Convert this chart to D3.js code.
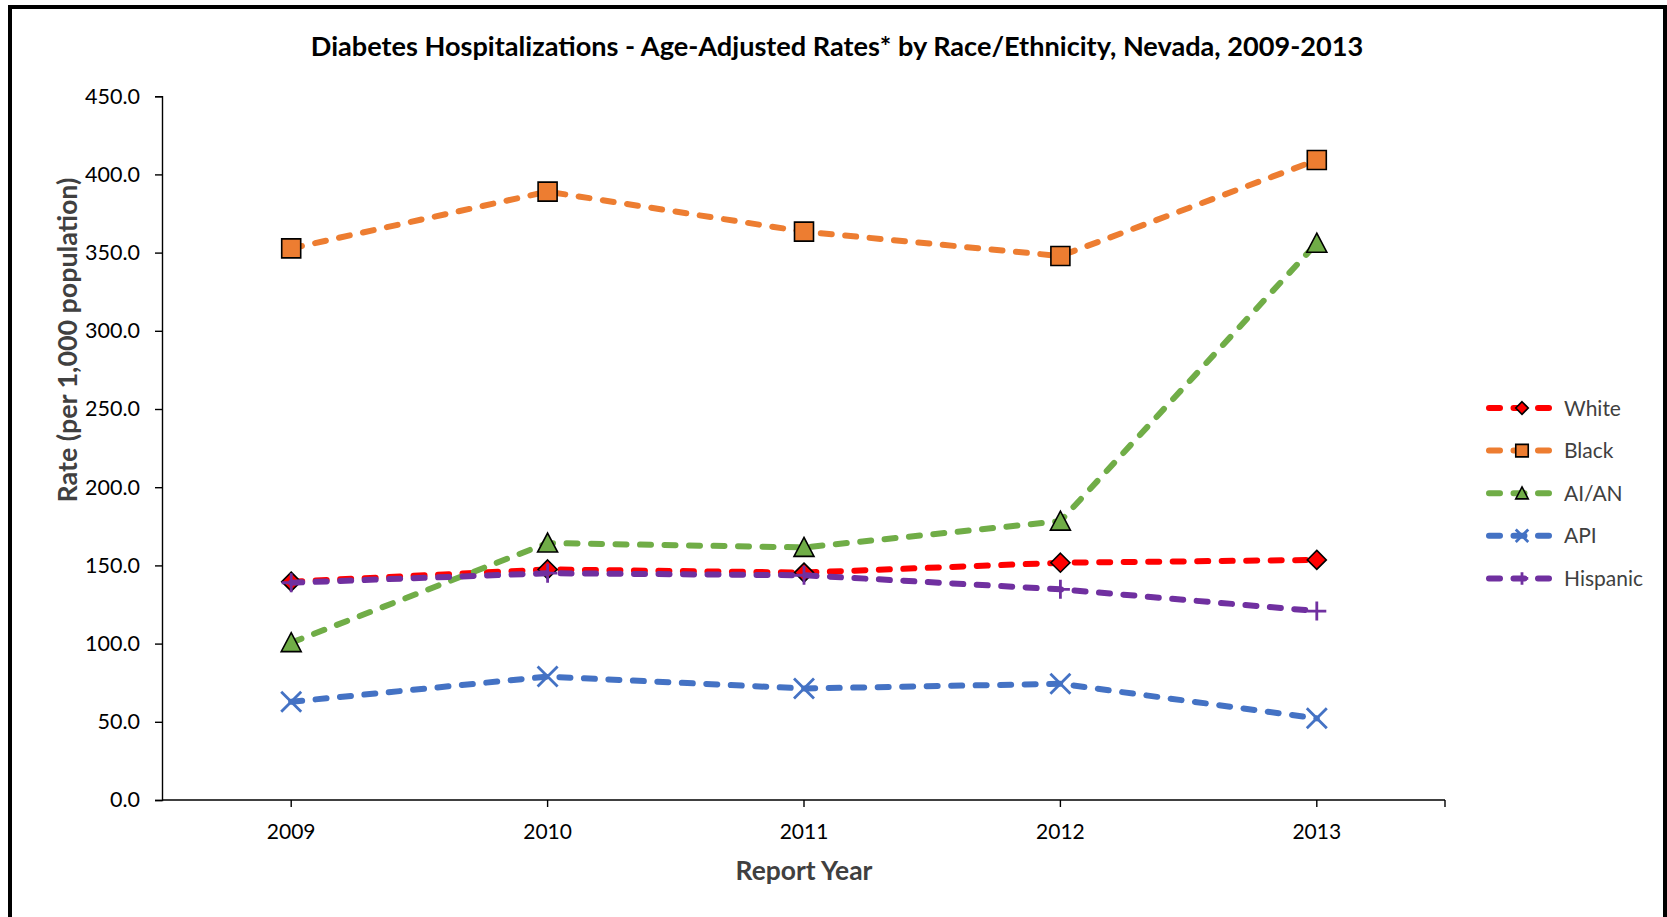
<!DOCTYPE html>
<html>
<head>
<meta charset="utf-8">
<script src="https://cdn.jsdelivr.net/npm/d3@7"></script>
<style>
  html, body { margin: 0; padding: 0; background: #fff; }
  svg { display: block; }
  text { font-family: Lato, "Open Sans", "Liberation Sans", sans-serif; }
</style>
</head>
<body>
<svg id="chart" width="1667" height="917"></svg>
<script>
// ---- data ----
const years = ["2009", "2010", "2011", "2012", "2013"];
const seriesNames = ["White", "Black", "AI/AN", "API", "Hispanic"];
const white    = [139.6, 147.4, 145.4, 151.7, 153.5];
const black    = [352.7, 389.0, 363.4, 347.8, 409.2];
const aian     = [100.6, 164.3, 161.5, 178.3, 356.0];
const api      = [62.8, 78.9, 71.3, 74.3, 52.2];
const hispanic = [138.9, 145.0, 143.7, 134.7, 120.8];
const yTicks   = [0, 50, 100, 150, 200, 250, 300, 350, 400, 450];
const titleText = "Diabetes Hospitalizations - Age-Adjusted Rates* by Race/Ethnicity, Nevada, 2009-2013";
const xTitle = "Report Year";
const yTitle = "Rate (per 1,000 population)";

const seriesValues = [white, black, aian, api, hispanic];
const colors  = ["#FF0000", "#ED7D31", "#70AD47", "#4472C4", "#7030A0"];
const markers = ["diamond", "square", "triangle", "x", "plus"];

// ---- layout ----
const svg = d3.select("#chart");
const plot = { left: 163, right: 1445, top: 96.2, bottom: 800 };

svg.append("rect").attr("x", 10).attr("y", 7).attr("width", 1655).attr("height", 930)
  .attr("fill", "#fff").attr("stroke", "#000").attr("stroke-width", 4);

const x = d3.scaleBand().domain(years).range([plot.left, plot.right]);
const xc = d => x(d) + x.bandwidth() / 2;
const y = d3.scaleLinear().domain([0, 450]).range([plot.bottom, plot.top]);

function fitWidth(sel, target) {
  const w = sel.node().getComputedTextLength();
  const fs = parseFloat(sel.attr("font-size"));
  sel.attr("font-size", fs * target / w);
}

// title
const t = svg.append("text").attr("x", 837).attr("y", 56).attr("text-anchor", "middle")
  .attr("font-weight", "bold").attr("font-size", 24).attr("fill", "#000").text(titleText);
fitWidth(t, 1053);

// y axis
const yAxis = svg.append("g").attr("transform", `translate(${plot.left - 1},0)`)
  .call(d3.axisLeft(y).tickValues(yTicks).tickFormat(d3.format(".1f")).tickSize(7).tickPadding(15));
yAxis.select(".domain").attr("stroke", "#000").attr("stroke-width", 1.4);
yAxis.selectAll(".tick line").attr("stroke", "#000").attr("stroke-width", 1.4);
yAxis.selectAll(".tick text").attr("font-size", 21.5).attr("fill", "#000")
  .style("font-family", "Lato, 'Open Sans', sans-serif");

// x axis
const xAxisG = svg.append("g").attr("transform", `translate(0,${plot.bottom})`);
xAxisG.append("line").attr("x1", plot.left - 1).attr("x2", plot.right).attr("y1", 0).attr("y2", 0)
  .attr("stroke", "#000").attr("stroke-width", 1.4);
xAxisG.selectAll("line.tk").data(years.map(xc).concat([plot.right])).join("line").attr("class", "tk")
  .attr("x1", d => d).attr("x2", d => d).attr("y1", 0).attr("y2", 7)
  .attr("stroke", "#000").attr("stroke-width", 1.4);
xAxisG.selectAll("text.lbl").data(years).join("text").attr("class", "lbl")
  .attr("x", d => xc(d)).attr("y", 39).attr("text-anchor", "middle")
  .attr("font-size", 21).attr("fill", "#000").text(d => d);

// axis titles
const xt = svg.append("text").attr("x", 804).attr("y", 880).attr("text-anchor", "middle")
  .attr("font-weight", "bold").attr("font-size", 24).attr("fill", "#404040").text(xTitle);
fitWidth(xt, 137);
const yt = svg.append("text").attr("transform", "translate(77,340) rotate(-90)")
  .attr("text-anchor", "middle").attr("font-weight", "bold").attr("font-size", 24)
  .attr("fill", "#404040").text(yTitle);
fitWidth(yt, 325);

// marker shapes
function markerPath(type, s) {
  const h = s / 2;
  switch (type) {
    case "diamond": return `M0,${-h}L${h},0L0,${h}L${-h},0Z`;
    case "square": return `M${-h},${-h}H${h}V${h}H${-h}Z`;
    case "triangle": return `M0,${-h}L${h},${h * 0.9}L${-h},${h * 0.9}Z`;
    case "x": return `M${-h},${-h}L${h},${h}M${h},${-h}L${-h},${h}`;
    case "plus": return `M0,${-h}V${h}M${-h},0H${h}`;
  }
}
function drawMarker(g, type, color, s) {
  const p = g.append("path").attr("d", markerPath(type, s));
  if (type === "x" || type === "plus") {
    p.attr("fill", "none").attr("stroke", color).attr("stroke-width", 2.8);
  } else {
    p.attr("fill", color).attr("stroke", "#000").attr("stroke-width", 1.6);
  }
}
const markerSize = { diamond: 19, square: 19, triangle: 20, x: 20, plus: 19 };

// series
const line = d3.line().x((d, i) => xc(years[i])).y(d => y(d));
const seriesG = svg.append("g");
seriesValues.forEach((vals, si) => {
  const g = seriesG.append("g");
  g.append("path").attr("d", line(vals)).attr("fill", "none")
    .attr("stroke", colors[si]).attr("stroke-width", 6)
    .attr("stroke-dasharray", "11,13.5").attr("stroke-linecap", "round");
  vals.forEach((v, i) => {
    const mg = g.append("g").attr("transform", `translate(${xc(years[i])},${y(v)})`);
    drawMarker(mg, markers[si], colors[si], markerSize[markers[si]]);
  });
});

// legend
const legend = svg.append("g");
const legY0 = 408, legStep = 42.6;
seriesNames.forEach((name, si) => {
  const g = legend.append("g").attr("transform", `translate(0,${legY0 + si * legStep})`);
  g.append("line").attr("x1", 1489).attr("x2", 1550).attr("y1", 0).attr("y2", 0)
    .attr("stroke", colors[si]).attr("stroke-width", 6)
    .attr("stroke-dasharray", "11,13.5").attr("stroke-linecap", "round");
  const mg = g.append("g").attr("transform", "translate(1522,0)");
  drawMarker(mg, markers[si], colors[si], 12.5);
  g.append("text").attr("x", 1564).attr("y", 7.5).attr("font-size", 21)
    .attr("fill", "#404040").text(name);
});
</script>
</body>
</html>
